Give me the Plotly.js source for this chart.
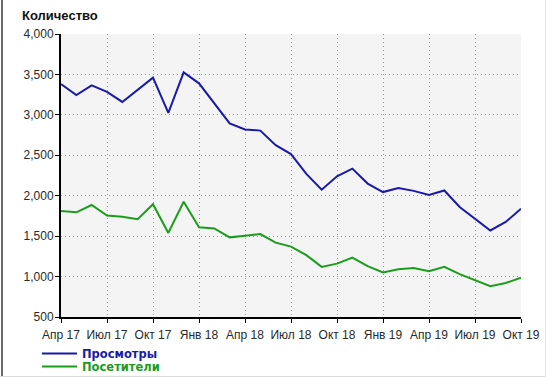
<!DOCTYPE html>
<html>
<head>
<meta charset="utf-8">
<script src="https://cdn.plot.ly/plotly-3.0.1.min.js"></script>
<style>
  html, body { margin: 0; padding: 0; background: #ffffff; }
  #wrap { position: relative; width: 546px; height: 377px; overflow: hidden; }
  #chart { position: absolute; left: 0; top: 0; width: 546px; height: 377px; }
  .edge { position: absolute; pointer-events: none; }
</style>
</head>
<body>
<div id="wrap">
  <div id="chart"></div>
  <div class="edge" style="left:1px;top:0;width:2px;height:377px;background:#6a6a6a;"></div>
  <div class="edge" style="left:0;top:376px;width:546px;height:1px;background:#dcdcdc;"></div>
  <div class="edge" style="left:545px;top:0;width:1px;height:377px;background:#e6e6e6;"></div>
</div>
<script>
// ---- data ----
const months = ['Апр 17','Май 17','Июн 17','Июл 17','Авг 17','Сен 17','Окт 17','Ноя 17','Дек 17',
  'Янв 18','Фев 18','Мар 18','Апр 18','Май 18','Июн 18','Июл 18','Авг 18','Сен 18','Окт 18','Ноя 18','Дек 18',
  'Янв 19','Фев 19','Мар 19','Апр 19','Май 19','Июн 19','Июл 19','Авг 19','Сен 19','Окт 19'];
const views = [3380,3245,3365,3285,3160,3305,3460,3025,3525,3390,3150,2895,2820,2805,2625,2515,2270,2075,2240,2335,2150,2045,2095,2060,2010,2065,1860,1715,1570,1675,1840];
const visitors = [1810,1795,1885,1755,1740,1710,1895,1540,1925,1610,1595,1485,1505,1525,1420,1370,1265,1120,1160,1235,1130,1050,1090,1105,1065,1120,1030,955,880,920,985];
const tickLabels = ['Апр 17','Июл 17','Окт 17','Янв 18','Апр 18','Июл 18','Окт 18','Янв 19','Апр 19','Июл 19','Окт 19'];
const yTicks = [500,1000,1500,2000,2500,3000,3500,4000];
const seriesNames = ['Просмотры','Посетители'];
const yTitle = 'Количество';

const blue = '#1a1aa6';
const green = '#1c9c1c';

const traces = [
  { x: months, y: views, type: 'scatter', mode: 'lines', name: seriesNames[0],
    line: { color: blue, width: 2 }, legend: 'legend', hoverinfo: 'skip' },
  { x: months, y: visitors, type: 'scatter', mode: 'lines', name: seriesNames[1],
    line: { color: green, width: 2 }, legend: 'legend2', hoverinfo: 'skip' }
];

const legendFont = { family: 'DejaVu Sans, sans-serif', size: 11.5, weight: 'bold' };
const H = 377;

const layout = {
  width: 546, height: 377,
  margin: { l: 61, r: 25, t: 34, b: 60, autoexpand: false },
  paper_bgcolor: '#ffffff',
  plot_bgcolor: '#f4f4f4',
  font: { family: 'Liberation Sans, Arial, sans-serif', size: 12, color: '#2a2a2a' },
  title: {
    text: '<b>' + yTitle + '</b>',
    x: 22 / 546, xanchor: 'left', xref: 'container',
    y: 1 - 15 / H, yanchor: 'middle', yref: 'container',
    font: { family: 'Liberation Sans, Arial, sans-serif', size: 13, color: '#111111' }
  },
  xaxis: {
    type: 'category',
    categoryorder: 'array', categoryarray: months,
    range: [0, months.length - 1],
    tickmode: 'array', tickvals: tickLabels, ticktext: tickLabels,
    showgrid: true, gridcolor: '#999999', gridwidth: 1, griddash: '1px,3px',
    showline: true, linecolor: '#000000', linewidth: 2,
    ticks: 'outside', ticklen: 4, tickwidth: 1, tickcolor: '#000000',
    ticklabelstandoff: 2,
    zeroline: false, fixedrange: true, automargin: false
  },
  yaxis: {
    range: [500, 4000],
    tickmode: 'array', tickvals: yTicks, tickformat: ',d',
    showgrid: true, gridcolor: '#999999', gridwidth: 1, griddash: '1px,3px',
    showline: true, linecolor: '#000000', linewidth: 2,
    ticks: 'outside', ticklen: 4, tickwidth: 1, tickcolor: '#000000',
    ticklabelstandoff: -1,
    zeroline: false, fixedrange: true, automargin: false
  },
  showlegend: true,
  legend: {
    xref: 'container', yref: 'container',
    x: 37 / 546, xanchor: 'left', y: 1 - 339 / H, yanchor: 'top',
    bgcolor: 'rgba(0,0,0,0)', borderwidth: 0, itemwidth: 35,
    font: Object.assign({}, legendFont, { color: blue })
  },
  legend2: {
    xref: 'container', yref: 'container',
    x: 37 / 546, xanchor: 'left', y: 1 - 352 / H, yanchor: 'top',
    bgcolor: 'rgba(0,0,0,0)', borderwidth: 0, itemwidth: 35,
    font: Object.assign({}, legendFont, { color: green })
  }
};

Plotly.newPlot('chart', traces, layout, { staticPlot: true, displayModeBar: false });
</script>
</body>
</html>
